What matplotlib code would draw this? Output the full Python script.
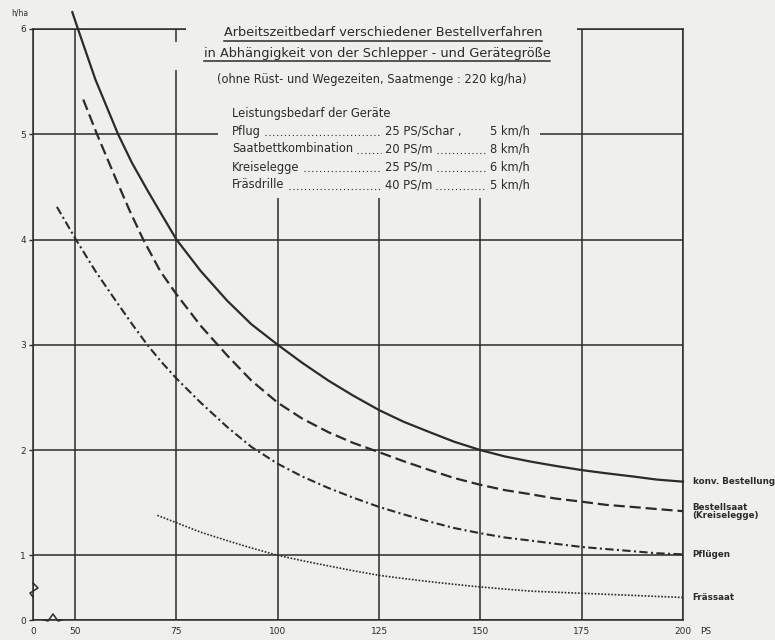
import matplotlib
matplotlib.use('Agg')

import matplotlib.pyplot as plt
from matplotlib.lines import Line2D
from matplotlib.patches import Rectangle

# Arbeitszeitbedarf (h/ha) ueber Schleppergroesse (PS)
konv_x = [49.3, 50.7, 55, 60.6, 64, 67.8, 71, 75, 81, 87.5, 93.5, 100, 106, 112.5,
          118.5, 125, 131, 137.5, 143.5, 150, 156, 162.5, 168.5, 175, 181, 187.5, 193.5, 200]
konv_y = [6.16, 6.0, 5.52, 5.0, 4.73, 4.47, 4.26, 4.0, 3.70, 3.42, 3.195, 3.0, 2.83, 2.66,
          2.52, 2.38, 2.27, 2.17, 2.08, 2.0, 1.94, 1.89, 1.85, 1.81, 1.78, 1.75, 1.72, 1.70]

bsaat_x = [52, 55.4, 60, 63.5, 66.8, 71, 75, 81, 87.5, 93.5, 100, 106, 112.5, 118.5,
           125, 131, 137.5, 143.5, 150, 156, 162.5, 168.5, 175, 181, 187.5, 193.5, 200]
bsaat_y = [5.33, 5.0, 4.58, 4.27, 4.0, 3.70, 3.48, 3.18, 2.9, 2.66, 2.45, 2.3, 2.17, 2.07,
           1.98, 1.895, 1.81, 1.735, 1.67, 1.62, 1.58, 1.54, 1.51, 1.48, 1.46, 1.44, 1.42]

pflug_x = [45.5, 50.2, 55, 60, 64, 67.8, 71, 75, 81, 87.5, 93.5, 100, 106, 112.5, 118.5,
           125, 131, 137.5, 143.5, 150, 156, 162.5, 168.5, 175, 181, 187.5, 193.5, 200]
pflug_y = [4.31, 4.0, 3.7, 3.42, 3.2, 3.0, 2.85, 2.68, 2.45, 2.22, 2.03, 1.87, 1.75, 1.64,
           1.55, 1.46, 1.39, 1.32, 1.26, 1.21, 1.17, 1.14, 1.11, 1.08, 1.06, 1.04, 1.02, 1.01]

fraes_x = [70.3, 75, 81, 87.5, 93.5, 100, 106, 112.5, 118.5, 125, 131, 137.5, 143.5,
           150, 156, 162.5, 168.5, 175, 181, 187.5, 193.5, 200]
fraes_y = [1.38, 1.31, 1.22, 1.14, 1.07, 1.0, 0.95, 0.9, 0.855, 0.81, 0.78, 0.75, 0.725,
           0.70, 0.68, 0.66, 0.65, 0.64, 0.63, 0.62, 0.61, 0.60]

ps_ticks = [50, 75, 100, 125, 150, 175, 200]
h_ticks = [1, 2, 3, 4, 5, 6]

geraete = ['Pflug', 'Saatbettkombination', 'Kreiselegge', 'Fräsdrille']
leistung = ['25 PS/Schar ,', '20 PS/m', '25 PS/m', '40 PS/m']
tempo = ['5 km/h', '8 km/h', '6 km/h', '5 km/h']

W, H = 775, 640
BG = '#efefec'
INK = '#2b2b2b'

fig = plt.figure(figsize=(W / 100, H / 100), dpi=100, facecolor=BG)


def fx(px):
    return px / W


def fy(py):
    return 1 - py / H


ax = fig.add_axes([fx(33), fy(620), fx(683) - fx(33), fy(29) - fy(620)])
ax.set_facecolor(BG)

# both axes are broken: "0" sits just left of / below the first gridline
X_ZERO = 39.6
Y_ZERO = 0.386
ax.set_xlim(X_ZERO, 200)
ax.set_ylim(Y_ZERO, 6)

ax.set_xticks([X_ZERO] + ps_ticks)
ax.set_xticklabels(['0'] + [str(v) for v in ps_ticks])
ax.set_yticks([Y_ZERO] + h_ticks)
ax.set_yticklabels(['0'] + [str(v) for v in h_ticks])
ax.tick_params(axis='x', length=0, pad=5, labelsize=6.5, colors=INK)
ax.tick_params(axis='y', length=3, width=1.0, pad=2, labelsize=6.5, colors=INK)

ax.grid(True, color=INK, linewidth=1.1)
ax.set_axisbelow(True)
for side in ['left', 'right', 'top', 'bottom']:
    ax.spines[side].set_color(INK)
    ax.spines[side].set_linewidth(1.1)
ax.spines['top'].set_zorder(0.8)

# blank areas behind the heading and the table
ax.add_patch(Rectangle((fx(186), fy(42)), fx(577) - fx(186), fy(20) - fy(42),
                       transform=fig.transFigure, facecolor=BG, edgecolor='none',
                       zorder=1, clip_on=False))
ax.add_patch(Rectangle((fx(172), fy(70)), fx(580) - fx(172), fy(42) - fy(70),
                       transform=fig.transFigure, facecolor=BG, edgecolor='none',
                       zorder=1, clip_on=False))
ax.add_patch(Rectangle((fx(218), fy(198)), fx(540) - fx(218), fy(70) - fy(198),
                       transform=fig.transFigure, facecolor=BG, edgecolor='none',
                       zorder=1, clip_on=False))

ax.plot(konv_x, konv_y, '-', color=INK, linewidth=1.6, clip_on=False, zorder=3)
ax.plot(bsaat_x, bsaat_y, color=INK, linewidth=1.6, linestyle=(0, (5, 2.2)),
        clip_on=False, zorder=3)
ax.plot(pflug_x, pflug_y, color=INK, linewidth=1.5, linestyle=(0, (4, 1.6, 1, 1.6)),
        clip_on=False, zorder=3)
ax.plot(fraes_x, fraes_y, color=INK, linewidth=1.2, linestyle=(0, (1, 1)),
        clip_on=False, zorder=3)

end_labels = [('konv. Bestellung', konv_y[-1]),
              ('Bestellsaat\n(Kreiselegge)', bsaat_y[-1]),
              ('Pflügen', pflug_y[-1]),
              ('Frässaat', fraes_y[-1])]
for txt, yv in end_labels:
    ax.annotate(txt, xy=(200, yv), xytext=(7, 0), textcoords='offset points',
                va='center', ha='left', fontsize=6.3, fontweight='bold',
                color=INK, linespacing=0.85, annotation_clip=False)

fig.text(fx(20), fy(13), 'h/ha', ha='center', va='center', fontsize=5.5, color=INK)
fig.text(fx(706), fy(632), 'PS', ha='center', va='center', fontsize=6.5, color=INK)

# heading and table
t1 = fig.text(fx(383), fy(33), 'Arbeitszeitbedarf verschiedener Bestellverfahren',
              ha='center', va='center', fontsize=9.3, color=INK)
t2 = fig.text(fx(377), fy(53), 'in Abhängigkeit von der Schlepper - und Gerätegröße',
              ha='center', va='center', fontsize=9.3, color=INK)
fig.text(fx(372), fy(80), '(ohne Rüst- und Wegezeiten, Saatmenge : 220 kg/ha)',
         ha='center', va='center', fontsize=8.3, color=INK)
fig.text(fx(232), fy(113), 'Leistungsbedarf der Geräte', ha='left', va='center',
         fontsize=8.3, color=INK)

name_txt = []
val_txt = []
row_y = [131, 149, 167, 185]
for i, ry in enumerate(row_y):
    name_txt.append(fig.text(fx(232), fy(ry), geraete[i], ha='left', va='center',
                             fontsize=8.3, color=INK))
    val_txt.append(fig.text(fx(385), fy(ry), leistung[i], ha='left', va='center',
                            fontsize=8.3, color=INK))
    fig.text(fx(490), fy(ry), tempo[i], ha='left', va='center', fontsize=8.3, color=INK)

fig.canvas.draw()


def seg(x0, y0, x1, y1, **kw):
    # line in pixel coordinates measured from the top left corner
    fig.add_artist(Line2D([x0, x1], [H - y0, H - y1], transform=None, color=INK, **kw))


for t in (t1, t2):
    bb = t.get_window_extent()
    seg(bb.x0, H - bb.y0 + 1, bb.x1, H - bb.y0 + 1, linewidth=1.1)

for i, ry in enumerate(row_y):
    nb = name_txt[i].get_window_extent()
    vb = val_txt[i].get_window_extent()
    if 381 - nb.x1 > 12:
        seg(nb.x1 + 4, ry + 4, 381, ry + 4, linewidth=0.8, linestyle=(0, (1, 2.5)))
    if i > 0 and 486 - vb.x1 > 12:
        seg(vb.x1 + 4, ry + 4, 486, ry + 4, linewidth=0.8, linestyle=(0, (1, 2.5)))

# break symbols on both axes
fig.add_artist(Line2D([33, 38, 30, 33], [H - 583, H - 588, H - 593, H - 597],
                      transform=None, color=INK, linewidth=1.1))
fig.add_artist(Line2D([44, 48, 53, 58, 62], [H - 620, H - 621, H - 614, H - 621, H - 620],
                      transform=None, color=INK, linewidth=1.1))

plt.savefig('out.png', dpi=100, facecolor=BG)
plt.close(fig)
